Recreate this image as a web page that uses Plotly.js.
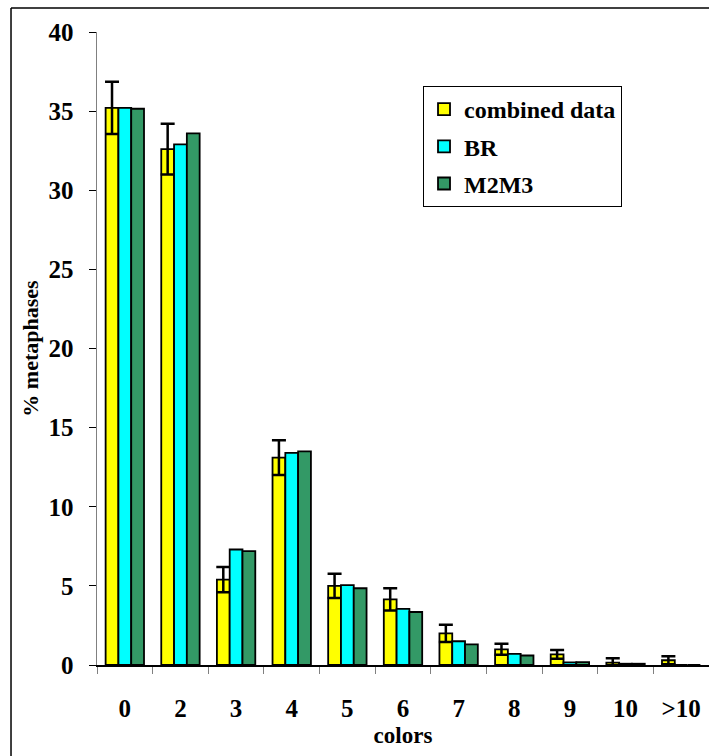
<!DOCTYPE html>
<html>
<head>
<meta charset="utf-8">
<script src="https://cdn.plot.ly/plotly-3.0.1.min.js"></script>
<style>html,body{margin:0;padding:0;background:#fff;}#chart{width:709px;height:756px;}</style>
</head>
<body>
<div id="chart"></div>
<script>
const categories = ["0", "2", "3", "4", "5", "6", "7", "8", "9", "10", ">10"];
const combinedData = [35.2, 32.6, 5.4, 13.1, 5.0, 4.15, 2.0, 0.99, 0.67, 0.15, 0.3];
const combinedErr = [1.65, 1.6, 0.8, 1.1, 0.77, 0.7, 0.55, 0.35, 0.28, 0.28, 0.25];
const brData = [35.2, 32.9, 7.3, 13.4, 5.05, 3.55, 1.5, 0.7, 0.17, 0.08, 0];
const m2m3Data = [35.15, 33.6, 7.2, 13.5, 4.85, 3.35, 1.3, 0.6, 0.18, 0.08, 0];
const seriesNames = ["combined data", "BR", "M2M3"];
const yTicks = [0, 5, 10, 15, 20, 25, 30, 35, 40];

const fontFam = '"Liberation Serif", "Times New Roman", serif';
const outline = {color: '#000000', width: 1.8};

const traces = [
  {type: 'bar', name: seriesNames[0], x: categories, y: combinedData, legendgroup: 'a',
   marker: {color: '#FFFF00', line: outline},
   error_y: {type: 'data', array: combinedErr, visible: true, color: '#000000', thickness: 2.5, width: 7}},
  {type: 'bar', name: seriesNames[1], x: categories, y: brData, legendgroup: 'b',
   marker: {color: '#00FFFF', line: outline}},
  {type: 'bar', name: seriesNames[2], x: categories, y: m2m3Data, legendgroup: 'c',
   marker: {color: '#339966', line: outline}}
];

const layout = {
  width: 709, height: 756,
  margin: {l: 97, r: 0, t: 32, b: 91, pad: 0},
  paper_bgcolor: '#ffffff', plot_bgcolor: '#ffffff',
  font: {family: fontFam, color: '#000000'},
  barmode: 'group', bargap: 0.31, bargroupgap: 0,
  showlegend: true,
  legend: {
    x: 0.5327, y: 0.9147, xanchor: 'left', yanchor: 'top',
    bgcolor: '#ffffff', bordercolor: '#000000', borderwidth: 1,
    font: {family: fontFam, size: 24, color: '#000000', weight: 'bold'},
    traceorder: 'grouped', tracegroupgap: 3
  },
  xaxis: {
    type: 'category', categoryorder: 'array', categoryarray: categories,
    showline: true, linecolor: '#000000', linewidth: 1.5,
    ticks: 'outside', tickson: 'boundaries', ticklen: 7, tickcolor: '#808080', tickwidth: 1,
    ticklabelstandoff: 20,
    tickfont: {family: fontFam, size: 25, color: '#000000', weight: 'bold'},
    showgrid: false, zeroline: false, fixedrange: true,
    title: {text: 'colors', font: {family: fontFam, size: 23, color: '#000000', weight: 'bold'}, standoff: 6}
  },
  yaxis: {
    range: [0, 40], tickvals: yTicks, ticktext: yTicks.map(String),
    showline: true, linecolor: '#808080', linewidth: 1.5,
    ticks: 'outside', ticklen: 7, tickcolor: '#000000', tickwidth: 1,
    ticklabelstandoff: 10,
    tickfont: {family: fontFam, size: 25, color: '#000000', weight: 'bold'},
    showgrid: false, zeroline: false, fixedrange: true,
    title: {text: '% metaphases', font: {family: fontFam, size: 22, color: '#000000', weight: 'bold'}, standoff: 4}
  },
  shapes: [
    {type: 'line', xref: 'paper', yref: 'paper', x0: -0.1405, x1: 1.0, y0: 1.0379, y1: 1.0379,
     line: {color: '#000000', width: 1.5}, layer: 'above'},
    {type: 'line', xref: 'paper', yref: 'paper', x0: -0.1405, x1: -0.1405, y0: -0.15, y1: 1.0379,
     line: {color: '#000000', width: 1.5}, layer: 'above'}
  ]
};

Plotly.newPlot('chart', traces, layout, {displayModeBar: false, staticPlot: true});
</script>
</body>
</html>
